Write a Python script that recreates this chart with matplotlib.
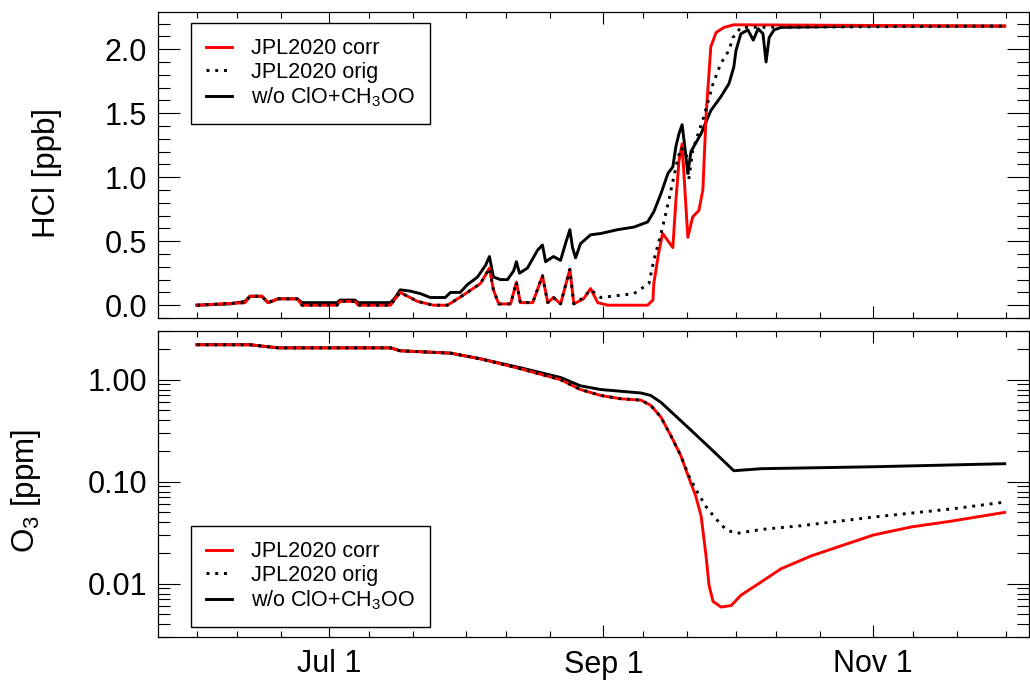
import numpy as np
import matplotlib
matplotlib.use("Agg")
import matplotlib.pyplot as plt
import matplotlib.dates as mdates
from matplotlib.ticker import MultipleLocator, LogLocator, FuncFormatter, NullFormatter

plt.rcParams['font.family'] = ['Liberation Sans', 'DejaVu Sans']
plt.rcParams['mathtext.default'] = 'regular'

# ---------------- data (days since 1 June) ----------------
series_labels = ["JPL2020 corr", "JPL2020 orig", "w/o ClO+CH$_3$OO"]
tick_labels_major = ["Jul 1", "Sep 1", "Nov 1"]

hcl_wo_days = [0, 7.5, 10.9, 12.0, 14.7, 16.1, 18.4, 22.7, 23.8, 31.7, 32.4, 35.8, 36.5, 43.8, 44.9,
               46.0, 48.3, 50.6, 52.8, 55.1, 56.2, 57.4, 59.6, 61.2, 63.5, 65.3, 66.2, 67.1, 68.7,
               70.3, 71.7, 72.3, 73.0, 74.8, 77.1, 78.2, 78.9, 80.7, 82.3, 83.4, 84.4, 85.0, 85.7,
               86.8, 89.1, 91.4, 95.2, 98.9, 102.0, 103.4, 105.0, 106.6, 107.7, 108.4, 109.1, 109.8,
               110.4, 111.1, 111.8, 114.1, 116.3, 118.6, 120.4, 121.5, 122.0, 123.1, 124.7, 125.9,
               127.0, 128.1, 128.8, 129.5, 130.6, 132.2, 150.0, 182.8]
hcl_wo_vals = [0.0, 0.01, 0.03, 0.07, 0.07, 0.02, 0.05, 0.05, 0.02, 0.02, 0.04, 0.04, 0.02, 0.02, 0.06,
               0.12, 0.11, 0.09, 0.06, 0.06, 0.06, 0.10, 0.10, 0.16, 0.22, 0.31, 0.38, 0.22, 0.20,
               0.20, 0.27, 0.34, 0.25, 0.29, 0.43, 0.47, 0.34, 0.38, 0.35, 0.48, 0.59, 0.45, 0.37,
               0.48, 0.55, 0.56, 0.59, 0.61, 0.65, 0.73, 0.87, 1.03, 1.08, 1.24, 1.34, 1.41,
               1.24, 1.03, 1.20, 1.34, 1.52, 1.63, 1.73, 1.86, 1.99, 2.12, 2.15, 2.07,
               2.16, 2.12, 1.90, 2.09, 2.15, 2.17, 2.18, 2.18]

hcl_corr_days = [0, 10.9, 12.0, 14.7, 16.1, 18.4, 22.7, 23.8, 31.7, 32.4, 35.8, 36.5, 43.8, 44.9, 46.0,
                 49.9, 53.5, 56.7, 59.0, 61.2, 64.2, 66.2, 67.1, 68.3, 71.0, 72.3, 73.2, 76.0, 78.2,
                 79.4, 80.7, 82.3, 84.4, 85.3, 87.5, 89.1, 90.7, 93.0, 102.0, 103.2, 103.4, 104.5,
                 105.4, 107.7, 108.4, 109.1, 109.8, 110.4, 111.1, 112.2, 113.6, 114.5, 115.2, 116.3,
                 117.5, 119.3, 121.5, 182.8]
hcl_corr_vals = [0.0, 0.02, 0.07, 0.07, 0.02, 0.05, 0.05, 0.0, 0.0, 0.03, 0.03, 0.0, 0.0, 0.05, 0.10,
                 0.03, 0.0, 0.0, 0.05, 0.10, 0.17, 0.29, 0.12, 0.01, 0.01, 0.18, 0.02, 0.02, 0.23,
                 0.02, 0.06, 0.01, 0.28, 0.01, 0.05, 0.13, 0.02, 0.0, 0.0, 0.04, 0.17, 0.41,
                 0.56, 0.45, 0.82, 1.13, 1.26, 0.92, 0.53, 0.69, 0.74, 0.90, 1.47, 2.02,
                 2.13, 2.17, 2.19, 2.18]

hcl_orig_days = [0, 10.9, 12.0, 14.7, 16.1, 18.4, 22.7, 23.8, 31.7, 32.4, 35.8, 36.5, 43.8, 44.9, 46.0,
                 49.9, 53.5, 56.7, 59.0, 61.2, 64.2, 66.2, 67.1, 68.3, 71.0, 72.3, 73.2, 76.0, 78.2,
                 79.4, 80.7, 82.3, 84.4, 85.3, 87.5, 89.1, 91.4, 98.9, 102.3, 103.4, 105.4, 106.8,
                 108.4, 109.5, 110.7, 111.3, 112.2, 114.7, 116.8, 118.6, 120.4, 121.3, 123.1, 182.8]
hcl_orig_vals = [0.0, 0.02, 0.07, 0.07, 0.02, 0.05, 0.05, 0.0, 0.0, 0.03, 0.03, 0.0, 0.0, 0.05, 0.10,
                 0.03, 0.0, 0.0, 0.05, 0.10, 0.17, 0.29, 0.12, 0.01, 0.01, 0.18, 0.02, 0.02, 0.23,
                 0.02, 0.06, 0.01, 0.28, 0.01, 0.06, 0.12, 0.06, 0.09, 0.17, 0.35, 0.61, 0.82,
                 1.08, 1.23, 1.19, 0.98, 1.21, 1.47, 1.73, 1.89, 1.99, 2.09, 2.17, 2.18]

o3_wo_days = [0, 12.0, 18.4, 43.8, 46.0, 57.4, 64.2, 73.2, 82.3, 86.8, 91.4, 100.5, 102.7, 105.0,
              111.8, 116.3, 121.5, 127.7, 153.1, 182.8]
o3_wo_vals = [2.2, 2.2, 2.05, 2.05, 1.92, 1.82, 1.6, 1.31, 1.05, 0.87, 0.80, 0.74, 0.70, 0.60,
              0.32, 0.21, 0.128, 0.134, 0.14, 0.15]

o3_corr_days = [0, 12.0, 18.4, 43.8, 46.0, 57.4, 64.2, 73.2, 82.3, 86.8, 91.4, 95.9, 100.5, 102.7,
                105.0, 107.3, 109.5, 111.3, 112.9, 114.1, 115.2, 115.9, 116.8, 118.6, 120.9, 123.1,
                127.7, 132.2, 139.0, 145.8, 153.1, 161.7, 170.7, 182.8]
o3_corr_vals = [2.2, 2.2, 2.05, 2.05, 1.92, 1.82, 1.6, 1.28, 1.0, 0.8, 0.70, 0.65, 0.63, 0.56,
                0.43, 0.28, 0.18, 0.11, 0.072, 0.046, 0.019, 0.0096, 0.0067, 0.0059, 0.0061, 0.0077,
                0.0104, 0.014, 0.0187, 0.0235, 0.030, 0.036, 0.041, 0.050]

o3_orig_days = [0, 12.0, 18.4, 43.8, 46.0, 57.4, 64.2, 73.2, 82.3, 86.8, 91.4, 95.9, 100.5, 102.7,
                105.0, 107.3, 109.5, 111.3, 112.9, 115.2, 117.5, 119.7, 122.0, 127.7, 136.7, 153.1,
                170.7, 182.8]
o3_orig_vals = [2.2, 2.2, 2.05, 2.05, 1.92, 1.82, 1.6, 1.28, 1.0, 0.8, 0.70, 0.65, 0.63, 0.56,
                0.43, 0.28, 0.18, 0.115, 0.084, 0.057, 0.043, 0.034, 0.031, 0.034, 0.037, 0.045,
                0.054, 0.063]

# ---------------- helpers ----------------
START = np.datetime64('2020-06-01T00:00:00')


def to_dates(days):
    secs = np.round(np.asarray(days, dtype=float) * 86400).astype('int64')
    return START + secs.astype('timedelta64[s]')


def fmt_date(x, pos=None):
    d = mdates.num2date(x)
    return f"{d.strftime('%b')} {d.day}"


W, H = 1030, 682
fig = plt.figure(figsize=(W / 100, H / 100), dpi=100)
left, right = 158, 1029
ax1 = fig.add_axes([left / W, 1 - 318 / H, (right - left) / W, 306 / H])
ax2 = fig.add_axes([left / W, 1 - 637 / H, (right - left) / W, 306 / H], sharex=ax1)

LW = 2.1
dot_style = (0, (1, 2))

# top panel: HCl
ax1.plot(to_dates(hcl_wo_days), hcl_wo_vals, color='black', lw=LW, zorder=2)
ax1.plot(to_dates(hcl_corr_days), hcl_corr_vals, color='#ff0000', lw=LW, zorder=3)
ax1.plot(to_dates(hcl_orig_days), hcl_orig_vals, color='black', lw=LW, ls=dot_style, zorder=4)

# bottom panel: O3
ax2.plot(to_dates(o3_wo_days), o3_wo_vals, color='black', lw=LW, zorder=2)
ax2.plot(to_dates(o3_corr_days), o3_corr_vals, color='#ff0000', lw=LW, zorder=3)
ax2.plot(to_dates(o3_orig_days), o3_orig_vals, color='black', lw=LW, ls=dot_style, zorder=4)

ax1.set_xlim(to_dates([-8.8])[0], to_dates([188.3])[0])
ax1.set_ylim(-0.1, 2.29)
ax2.set_yscale('log')
ax2.set_ylim(0.003, 3.0)

ax1.yaxis.set_major_locator(MultipleLocator(0.5))
ax1.yaxis.set_minor_locator(MultipleLocator(0.1))
ax1.yaxis.set_major_formatter(FuncFormatter(lambda v, p: f"{v:.1f}"))
ax2.yaxis.set_major_locator(LogLocator(base=10, numticks=10))
ax2.yaxis.set_minor_locator(LogLocator(base=10, subs=np.arange(2, 10), numticks=20))
ax2.yaxis.set_major_formatter(FuncFormatter(lambda v, p: f"{v:.2f}"))
ax2.yaxis.set_minor_formatter(NullFormatter())

ax2.xaxis.set_major_locator(mdates.MonthLocator(bymonth=[7, 9, 11]))
ax2.xaxis.set_minor_locator(mdates.DayLocator(bymonthday=[1, 10, 20]))
ax2.xaxis.set_major_formatter(FuncFormatter(fmt_date))

for ax in (ax1, ax2):
    for s in ax.spines.values():
        s.set_linewidth(0.9)
    ax.tick_params(which='both', direction='in', top=True, right=True, width=0.8,
                   labelsize=22, colors='black')
    ax.tick_params(axis='x', which='major', length=8.6, pad=9)
    ax.tick_params(axis='x', which='minor', length=4.0)
    ax.tick_params(axis='y', which='major', length=15.8, pad=8)
    ax.tick_params(axis='y', which='minor', length=8.6)
ax1.tick_params(labelbottom=False)

ax1.set_ylabel("HCl [ppb]", fontsize=22.5)
ax2.set_ylabel("O$_3$ [ppm]", fontsize=22.5)
ax1.yaxis.set_label_coords((62 - left) / (right - left), 0.475)
ax2.yaxis.set_label_coords((43 - left) / (right - left), 0.477)

leg_kw = dict(fontsize=15.5, frameon=True, fancybox=False, framealpha=1, edgecolor='black',
              handlelength=1.2, handletextpad=0.9, labelspacing=0.12, borderpad=0.7,
              borderaxespad=0)
h1 = ax1.get_lines()
l1 = ax1.legend([h1[1], h1[2], h1[0]], series_labels, loc='upper left',
                bbox_to_anchor=(0.038, 0.964), **leg_kw)
l1.get_frame().set_linewidth(1.0)
h2 = ax2.get_lines()
l2 = ax2.legend([h2[1], h2[2], h2[0]], series_labels, loc='lower left',
                bbox_to_anchor=(0.038, 0.033), **leg_kw)
l2.get_frame().set_linewidth(1.0)

fig.savefig("out.png", dpi=100)
